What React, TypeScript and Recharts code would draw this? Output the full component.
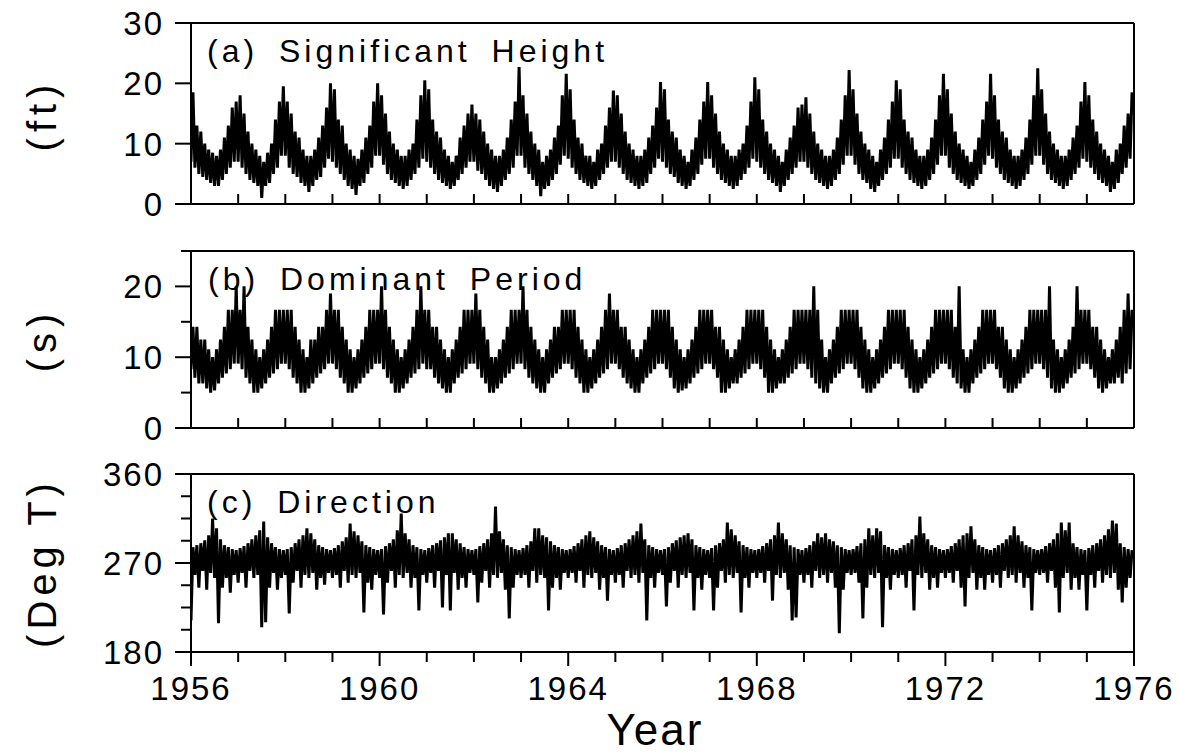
import React from "react";
import { LineChart, Line, XAxis, YAxis } from "recharts";

// monthly envelope, Jan 1956 .. Dec 1975
const HEIGHT_HI = [
  18.5, 13, 12, 10, 9, 8.5, 8, 9, 11, 13, 16, 17,
  18, 15, 12, 10, 9, 8, 7, 8.5, 10, 14, 17, 19.5,
  17, 15, 12, 11, 9, 8, 8, 9, 11, 13, 16, 20,
  19, 14, 13, 10, 9, 8, 7.5, 9, 11, 13, 17, 20,
  18, 15, 12, 10, 9, 8, 8, 9, 10, 14, 18, 20.5,
  19, 14, 12, 11, 9, 8, 7, 8, 11, 13, 15, 16.5,
  15, 14, 12, 10, 9, 8, 8, 9, 11, 14, 17, 22.7,
  18, 15, 12, 10, 9, 7, 8, 9, 11, 13, 18, 21.6,
  19, 14, 11, 10, 8, 8, 7, 9, 10, 13, 16, 18.8,
  18, 15, 12, 10, 9, 8, 8, 9, 11, 13, 16, 20.2,
  19, 14, 12, 11, 9, 8, 7, 9, 11, 14, 17, 20.2,
  18, 15, 12, 10, 9, 8, 8, 9, 10, 13, 17, 21,
  19, 14, 12, 10, 9, 8, 7, 9, 11, 13, 16, 16.5,
  17.7, 15, 12, 10, 9, 8, 8, 9, 11, 14, 18, 22.2,
  19, 15, 12, 10, 9, 8, 7, 9, 11, 14, 17, 20.5,
  19, 14, 12, 11, 9, 8, 8, 9, 11, 14, 18, 21.6,
  19, 15, 12, 10, 9, 8, 7, 9, 11, 14, 17, 21.6,
  18, 14, 12, 11, 9, 8, 8, 9, 11, 14, 18, 22.5,
  19, 15, 12, 10, 9, 8, 8, 9, 11, 13, 17, 20.2,
  18, 14, 12, 10, 9, 8, 7, 9, 10, 13, 15, 18.5,
];
const HEIGHT_LO = [
  7, 6, 5, 4.5, 4, 3.5, 3, 3, 4, 5, 6, 7,
  7, 6, 5, 4, 3.5, 3, 1, 3, 3.5, 5, 6, 8,
  8, 6, 5, 4.5, 3.5, 3, 2, 3, 4, 4.5, 6, 7.5,
  7, 6, 5, 4, 3, 2.5, 1.5, 3, 3.5, 5, 6, 8,
  8, 6.5, 5, 4, 3.5, 3, 2.5, 3, 4, 5, 6, 7.5,
  7, 6, 5, 4, 3.5, 3, 2.5, 3, 4, 5, 6, 7,
  7, 5.5, 5, 4, 3, 2.5, 2, 3, 4, 5, 6, 8,
  8, 6, 5, 4, 3, 1.3, 2.5, 3, 4, 5, 6.5, 8,
  7.5, 6, 5, 4, 3.5, 3, 2.5, 3, 4, 5, 6, 7,
  7, 6, 5, 4, 3.5, 3, 2.5, 3, 3.5, 5, 6, 7.5,
  7, 6, 5, 4.5, 3.5, 3, 2.5, 3, 4, 5, 6.5, 7.5,
  7.5, 6, 5, 4, 3.5, 3, 2.5, 3, 4, 5, 6, 7.5,
  7, 6, 5, 4, 3.5, 3, 2, 3, 4, 5, 6, 7,
  7, 6, 5, 4, 3.5, 3, 2.5, 3, 4, 5, 6.5, 8,
  8, 6.5, 5, 4, 3.5, 2.5, 2, 3, 4, 5, 6, 7.5,
  7.5, 6, 5, 4, 3.5, 3, 2.5, 3, 4, 5, 6.5, 8,
  8, 6, 5, 4, 3.5, 3, 2.5, 3, 4, 5, 6.5, 8,
  7.5, 6, 5, 4, 3.5, 3, 2.5, 3, 4, 5, 6.5, 8,
  8, 6.5, 5, 4, 3.5, 3, 2.5, 3, 4, 5, 6, 7.5,
  7, 6, 5, 4, 3.5, 3, 2, 2.5, 3.5, 5, 6, 7.5,
];

const PERIOD_HI = [
  14.3, 14.3, 12.5, 12.5, 11.1, 10, 11.1, 12.5, 14.3, 16.7, 16.7, 20,
  16.7, 20, 14.3, 12.5, 11.1, 10, 11.1, 12.5, 14.3, 16.7, 16.7, 16.7,
  16.7, 16.7, 14.3, 12.5, 11.1, 10, 12.5, 12.5, 14.3, 14.3, 16.7, 19,
  16.7, 16.7, 14.3, 12.5, 11.1, 10, 11.1, 12.5, 14.3, 16.7, 16.7, 16.7,
  20, 16.7, 14.3, 12.5, 11.1, 10, 11.1, 12.5, 14.3, 16.7, 20, 16.7,
  16.7, 14.3, 14.3, 12.5, 11.1, 10, 11.1, 12.5, 14.3, 16.7, 16.7, 16.7,
  19, 16.7, 14.3, 12.5, 10, 10, 11.1, 12.5, 14.3, 16.7, 16.7, 16.7,
  20, 16.7, 14.3, 12.5, 11.1, 10, 11.1, 12.5, 14.3, 14.3, 16.7, 16.7,
  16.7, 16.7, 14.3, 12.5, 11.1, 10, 11.1, 12.5, 14.3, 16.7, 19, 16.7,
  16.7, 14.3, 14.3, 12.5, 11.1, 10, 11.1, 12.5, 14.3, 16.7, 16.7, 16.7,
  16.7, 16.7, 14.3, 12.5, 11.1, 10, 11.1, 12.5, 14.3, 16.7, 16.7, 16.7,
  16.7, 14.3, 14.3, 12.5, 11.1, 10, 11.1, 12.5, 14.3, 16.7, 16.7, 16.7,
  16.7, 16.7, 14.3, 12.5, 11.1, 10, 11.1, 12.5, 14.3, 16.7, 16.7, 16.7,
  16.7, 16.7, 20, 16.7, 12.5, 10, 11.1, 12.5, 14.3, 16.7, 16.7, 16.7,
  16.7, 16.7, 14.3, 12.5, 11.1, 10, 11.1, 12.5, 14.3, 16.7, 16.7, 16.7,
  16.7, 16.7, 14.3, 12.5, 11.1, 10, 11.1, 12.5, 14.3, 16.7, 16.7, 16.7,
  16.7, 16.7, 14.3, 20, 11.1, 10, 11.1, 12.5, 14.3, 16.7, 16.7, 16.7,
  16.7, 14.3, 14.3, 12.5, 11.1, 10, 11.1, 12.5, 14.3, 16.7, 16.7, 16.7,
  16.7, 16.7, 20, 12.5, 11.1, 10, 11.1, 12.5, 14.3, 20, 16.7, 16.7,
  16.7, 14.3, 14.3, 12.5, 11.1, 10, 11.1, 12.5, 14.3, 16.7, 19, 16.7,
];
const PERIOD_LO = [
  8.3, 7.1, 6.3, 6.3, 5.6, 5, 5.3, 6.3, 7.1, 7.7, 8.3, 9.1,
  9.1, 8.3, 7.1, 6.3, 5, 5, 5.6, 6.3, 7.1, 7.7, 8.3, 9.1,
  9.1, 8.3, 7.1, 6.3, 5, 5, 5.6, 6.3, 7.1, 7.7, 8.3, 9.1,
  9.1, 8.3, 7.1, 6.3, 5, 5, 5.6, 6.3, 7.1, 7.7, 8.3, 9.1,
  9.1, 8.3, 7.1, 6.3, 5, 5, 5.6, 6.3, 7.1, 7.7, 8.3, 9.1,
  8.3, 8.3, 7.1, 6.3, 5.6, 5, 5, 6.3, 7.1, 7.7, 8.3, 9.1,
  9.1, 8.3, 7.1, 6.3, 5, 5, 5.6, 6.3, 7.1, 7.7, 8.3, 9.1,
  9.1, 8.3, 7.1, 6.3, 5.6, 5, 5, 6.3, 7.1, 7.7, 8.3, 9.1,
  9.1, 8.3, 7.1, 6.3, 5, 5, 5.6, 6.3, 7.1, 7.7, 8.3, 9.1,
  9.1, 8.3, 7.1, 6.3, 5.6, 5, 5, 6.3, 7.1, 7.7, 8.3, 9.1,
  9.1, 8.3, 7.1, 5.6, 5, 5.3, 5.6, 6.3, 7.1, 7.7, 8.3, 9.1,
  9.1, 8.3, 7.1, 5, 5, 5.6, 6.3, 6.3, 7.1, 7.7, 8.3, 9.1,
  9.1, 8.3, 7.1, 5, 5, 5.6, 6.3, 6.3, 7.1, 7.7, 8.3, 9.1,
  9.1, 8.3, 7.1, 6.3, 5.6, 5, 5, 6.3, 7.1, 7.7, 8.3, 9.1,
  9.1, 8.3, 7.1, 5.6, 5, 5, 5.6, 6.3, 7.1, 7.7, 8.3, 9.1,
  9.1, 8.3, 7.1, 5.6, 5, 5, 5.6, 6.3, 7.1, 7.7, 8.3, 9.1,
  9.1, 8.3, 7.1, 6.3, 5.6, 5, 5, 6.3, 7.1, 7.7, 8.3, 9.1,
  9.1, 8.3, 7.1, 5.6, 5, 5, 5.6, 6.3, 7.1, 7.7, 8.3, 9.1,
  9.1, 8.3, 7.1, 5.6, 5, 5, 5.6, 6.3, 7.1, 7.7, 8.3, 9.1,
  9.1, 8.3, 7.1, 5.6, 5, 5.6, 6.3, 6.3, 7.1, 6.3, 7.7, 8.3,
];

const DIR_HI = [
  286, 288, 290, 293, 298, 315, 305, 294, 288, 286, 284, 283,
  285, 287, 290, 294, 298, 303, 312, 296, 290, 286, 284, 283,
  284, 286, 290, 294, 298, 305, 300, 294, 288, 286, 284, 283,
  285, 288, 292, 296, 310, 302, 298, 292, 288, 286, 284, 283,
  284, 287, 290, 294, 303, 320, 300, 294, 288, 286, 284, 283,
  285, 288, 290, 293, 296, 300, 300, 294, 290, 286, 284, 283,
  284, 287, 290, 294, 300, 327, 302, 294, 288, 286, 284, 283,
  285, 288, 292, 305, 305, 298, 296, 292, 288, 286, 284, 283,
  284, 287, 290, 294, 298, 302, 296, 292, 288, 286, 284, 283,
  285, 288, 290, 294, 298, 302, 310, 294, 288, 286, 284, 283,
  284, 286, 290, 293, 296, 298, 300, 294, 288, 286, 284, 283,
  285, 288, 290, 294, 311, 304, 298, 292, 288, 286, 284, 283,
  284, 287, 290, 294, 298, 311, 300, 294, 288, 286, 284, 283,
  285, 288, 292, 300, 296, 300, 294, 292, 288, 286, 284, 283,
  284, 287, 290, 294, 305, 298, 305, 302, 288, 286, 284, 283,
  285, 288, 290, 294, 298, 317, 300, 294, 288, 286, 284, 283,
  284, 287, 290, 294, 298, 300, 307, 294, 288, 286, 284, 283,
  285, 288, 290, 294, 298, 307, 298, 292, 288, 286, 284, 283,
  284, 287, 290, 294, 300, 311, 303, 311, 290, 286, 284, 283,
  285, 288, 290, 294, 298, 304, 313, 310, 290, 286, 284, 283,
];
const DIR_LO = [
  212, 258, 245, 262, 243, 260, 255, 209, 245, 255, 240, 258,
  250, 260, 245, 262, 255, 258, 205, 210, 245, 260, 243, 255,
  258, 219, 250, 262, 245, 258, 255, 260, 243, 255, 248, 260,
  255, 258, 245, 262, 250, 258, 255, 260, 220, 250, 243, 258,
  255, 218, 250, 262, 245, 258, 255, 260, 245, 255, 222, 258,
  250, 260, 245, 262, 225, 258, 222, 260, 243, 255, 245, 260,
  258, 230, 250, 262, 245, 258, 255, 260, 243, 214, 245, 258,
  255, 258, 245, 262, 250, 258, 255, 222, 245, 255, 243, 260,
  255, 260, 250, 262, 245, 258, 255, 260, 243, 255, 232, 258,
  250, 258, 245, 262, 255, 258, 250, 260, 212, 255, 245, 260,
  258, 226, 250, 262, 245, 258, 255, 260, 222, 255, 243, 258,
  255, 222, 245, 262, 250, 258, 255, 260, 220, 255, 245, 260,
  255, 260, 250, 262, 232, 258, 255, 260, 243, 212, 215, 258,
  250, 258, 245, 262, 255, 258, 250, 260, 245, 199, 243, 260,
  258, 260, 250, 214, 245, 258, 255, 260, 205, 255, 243, 258,
  255, 258, 245, 262, 222, 258, 255, 260, 243, 255, 245, 260,
  255, 260, 250, 262, 245, 226, 255, 260, 243, 255, 243, 258,
  250, 258, 245, 262, 255, 258, 250, 260, 245, 255, 222, 260,
  258, 260, 250, 262, 245, 220, 255, 260, 243, 255, 243, 258,
  222, 258, 245, 262, 250, 258, 255, 260, 243, 230, 245, 255,
];

const YEAR_TICKS = [1956, 1957, 1958, 1959, 1960, 1961, 1962, 1963, 1964, 1965, 1966,
  1967, 1968, 1969, 1970, 1971, 1972, 1973, 1974, 1975, 1976];
const YEAR_LABELS = [1956, 1960, 1964, 1968, 1972, 1976];

const W = 1178;
const H = 753;
const FONT = "'Liberation Sans', Arial, sans-serif";

// zigzag each month: trough at month start, peak at mid-month
function buildSeries(lo: number[], hi: number[]) {
  const out: { t: number; v: number }[] = [];
  lo.forEach((v, i) => {
    out.push({ t: 1956 + i / 12, v });
    out.push({ t: 1956 + (i + 0.5) / 12, v: hi[i] });
  });
  return out;
}

const AXIS_LINE = { stroke: "#000", strokeWidth: 2 };
const PLOT_L = 191;
const PLOT_R = 1134;

function Panel({ data, top, bottom, domain, ticks, labeled, last }: {
  data: { t: number; v: number }[]; top: number; bottom: number;
  domain: [number, number]; ticks: number[]; labeled: number[]; last?: boolean;
}) {
  // axes get 1px of room each (recharts skips zero-size axes)
  return (
    <div style={{ position: "absolute", left: 0, top: 0 }}>
      <LineChart width={W} height={H} data={data}
        margin={{ top: top - 1, bottom: H - bottom - 1, left: PLOT_L - 1, right: W - PLOT_R - 1 }}>
        <XAxis dataKey="t" type="number" domain={[1956, 1976]} ticks={YEAR_TICKS}
          allowDataOverflow height={1} tickSize={0} tickMargin={0} axisLine={AXIS_LINE}
          interval={0}
          tick={(p: any) => {
            const yr = p.payload.value;
            if (!last) {
              return <line x1={p.x} x2={p.x} y1={p.y} y2={p.y - 10} stroke="#000" strokeWidth={2} />;
            }
            const lab = YEAR_LABELS.includes(yr);
            return (
              <g>
                <line x1={p.x} x2={p.x} y1={p.y} y2={p.y + (lab ? 14 : 10)} stroke="#000" strokeWidth={2} />
                {lab && (
                  <text x={p.x} y={p.y + 48} textAnchor="middle" fontFamily={FONT}
                    fontSize={33} letterSpacing={2} fill="#000">{yr}</text>
                )}
              </g>
            );
          }} />
        <XAxis xAxisId="top" orientation="top" type="number" domain={[1956, 1976]}
          ticks={YEAR_TICKS} interval={0} height={1} tickSize={0} tickMargin={0}
          axisLine={AXIS_LINE}
          tick={(p: any) => <line x1={p.x} x2={p.x} y1={p.y} y2={p.y + 10} stroke="#000" strokeWidth={2} />} />
        <YAxis type="number" domain={domain} ticks={ticks} interval={0} width={1}
          allowDataOverflow tickSize={0} tickMargin={0} axisLine={AXIS_LINE}
          tick={(p: any) => {
            const major = labeled.includes(p.payload.value);
            return (
              <g>
                <line x1={p.x} x2={p.x - (major ? 16 : 10)} y1={p.y} y2={p.y} stroke="#000" strokeWidth={2} />
                {major && (
                  <text x={p.x - 27} y={p.y} dy="0.36em" textAnchor="end" fontFamily={FONT}
                    fontSize={33} letterSpacing={2} fill="#000">{p.payload.value}</text>
                )}
              </g>
            );
          }} />
        <YAxis yAxisId="r" orientation="right" type="number" domain={domain} ticks={ticks}
          interval={0} width={1} tickSize={0} tickMargin={0} axisLine={AXIS_LINE}
          tick={(p: any) => <line x1={p.x} x2={p.x - 10} y1={p.y} y2={p.y} stroke="#000" strokeWidth={2} />} />
        <Line type="linear" dataKey="v" stroke="#000" strokeWidth={3} dot={false}
          isAnimationActive={false} />
      </LineChart>
    </div>
  );
}

export default function App() {
  const hs = buildSeries(HEIGHT_LO, HEIGHT_HI);
  const tp = buildSeries(PERIOD_LO, PERIOD_HI);
  const dir = buildSeries(DIR_LO, DIR_HI);
  const txt = { fontFamily: FONT, fill: "#000" } as const;
  return (
    <div style={{ position: "absolute", left: 0, top: 0, width: W, height: H, background: "#fff" }}>
      <Panel data={hs} top={23} bottom={204} domain={[0, 30]} ticks={[0, 10, 20, 30]} labeled={[0, 10, 20, 30]} />
      <Panel data={tp} top={251} bottom={428} domain={[0, 25]} ticks={[0, 5, 10, 15, 20, 25]} labeled={[0, 10, 20]} />
      <Panel data={dir} top={474} bottom={652} domain={[180, 360]}
        ticks={[180, 202.5, 225, 247.5, 270, 292.5, 315, 337.5, 360]} labeled={[180, 270, 360]} last />
      <svg width={W} height={H} style={{ position: "absolute", left: 0, top: 0, pointerEvents: "none" }}>
        <text x={207} y={62} fontSize={32} letterSpacing={4} wordSpacing={8} {...txt}>(a) Significant Height</text>
        <text x={208} y={290} fontSize={32} letterSpacing={4} wordSpacing={8} {...txt}>(b) Dominant Period</text>
        <text x={207} y={513} fontSize={32} letterSpacing={4} wordSpacing={8} {...txt}>(c) Direction</text>
        <text transform="translate(56,115) rotate(-90)" textAnchor="middle" fontSize={40} letterSpacing={6} {...txt}>(ft)</text>
        <text transform="translate(56,340) rotate(-90)" textAnchor="middle" fontSize={40} letterSpacing={6} {...txt}>(s)</text>
        <text transform="translate(56,563) rotate(-90)" textAnchor="middle" fontSize={40} letterSpacing={5} {...txt}>(Deg T)</text>
        <text x={655} y={745} textAnchor="middle" fontSize={44} letterSpacing={2} {...txt}>Year</text>
      </svg>
    </div>
  );
}
